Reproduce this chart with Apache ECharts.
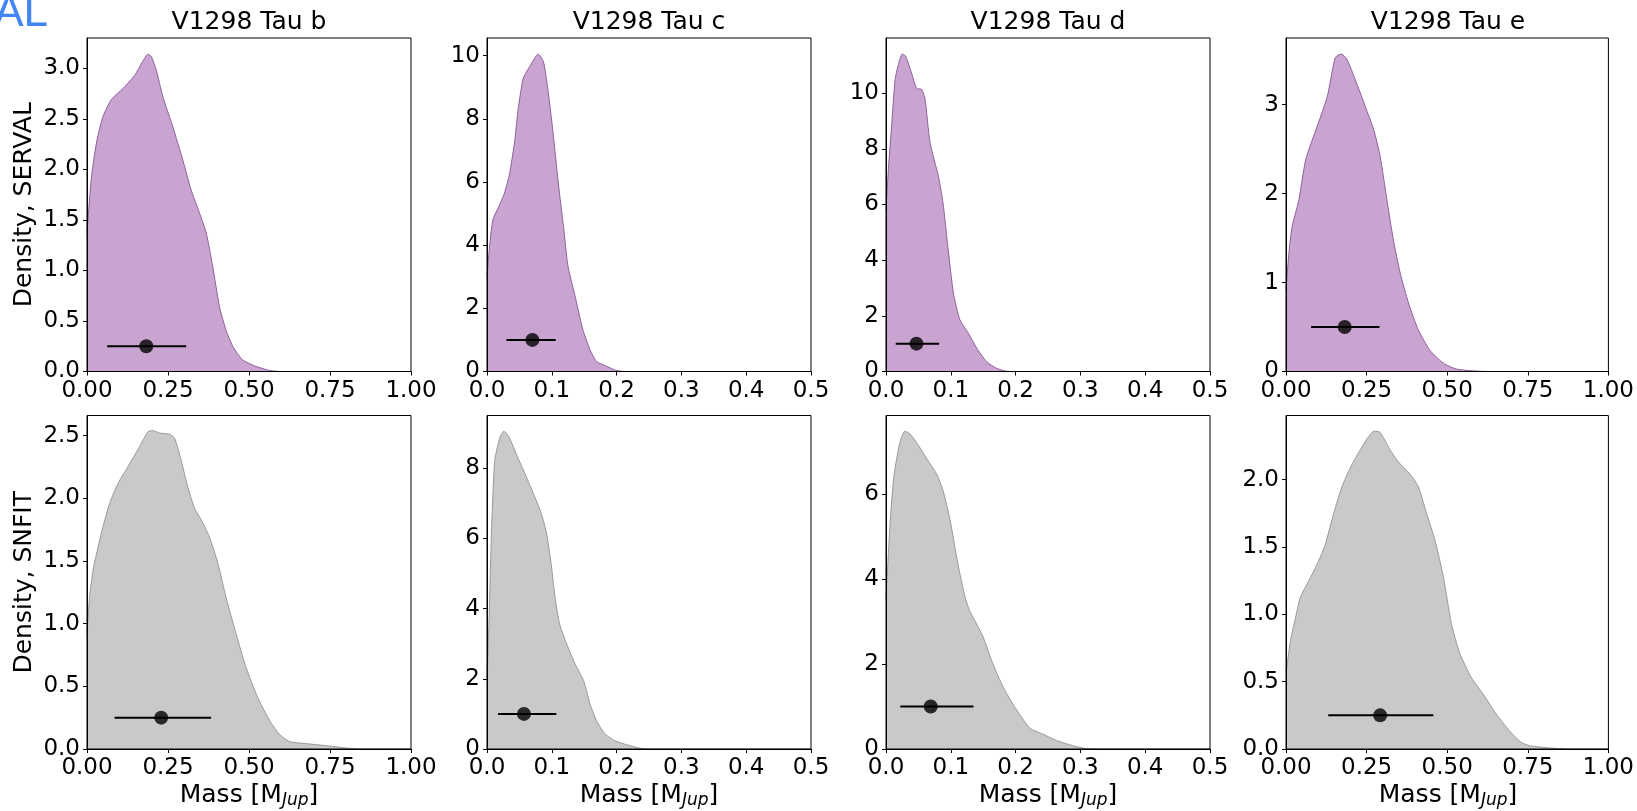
<!DOCTYPE html>
<html><head><meta charset="utf-8">
<script src="https://cdn.jsdelivr.net/npm/echarts@6/dist/echarts.min.js"></script>
<style>html,body{margin:0;padding:0;background:#fff}#c{width:1637px;height:811px}</style>
</head><body><div id="c"></div>
<script>
// ---------------- DATA ----------------
const planets = ['V1298 Tau b', 'V1298 Tau c', 'V1298 Tau d', 'V1298 Tau e'];
const rowLabels = ['Density, SERVAL', 'Density, SNFIT'];
const massLabel = 'Mass [M{sub|Jup}]';
const cornerText = 'AL';

// x tick values
const xTicksWide = [0, 0.25, 0.5, 0.75, 1.0];
const xTicksNarrow = [0, 0.1, 0.2, 0.3, 0.4, 0.5];
// y tick values
const yTicksServal = [[0, 0.5, 1, 1.5, 2, 2.5, 3], [0, 2, 4, 6, 8, 10], [0, 2, 4, 6, 8, 10], [0, 1, 2, 3]];
const yTicksSnfit = [[0, 0.5, 1, 1.5, 2, 2.5], [0, 2, 4, 6, 8], [0, 2, 4, 6], [0, 0.5, 1, 1.5, 2]];

// density curves [mass, density] — SERVAL
const densServalB = [[0,1.37],[0.013,1.90],[0.029,2.26],[0.049,2.52],[0.075,2.69],[0.111,2.80],[0.147,2.93],[0.172,3.07],[0.188,3.14],[0.198,3.12],[0.214,2.98],[0.234,2.72],[0.265,2.42],[0.296,2.09],[0.321,1.80],[0.347,1.57],[0.368,1.37],[0.388,1.04],[0.409,0.64],[0.429,0.41],[0.45,0.25],[0.48,0.116],[0.522,0.05],[0.564,0.01],[0.6,0],[1.0,0]];
const densServalC = [[0,3.01],[0.004,3.96],[0.009,4.80],[0.017,5.17],[0.027,5.65],[0.035,6.28],[0.043,7.34],[0.048,8.29],[0.056,9.29],[0.066,9.66],[0.079,10.05],[0.087,9.82],[0.094,8.92],[0.102,7.55],[0.110,5.97],[0.118,4.59],[0.125,3.33],[0.136,2.38],[0.148,1.32],[0.159,0.69],[0.169,0.32],[0.185,0.16],[0.2,0.03],[0.215,0],[0.5,0]];
const densServalD = [[0,5.81],[0.004,7.37],[0.009,8.92],[0.014,10.48],[0.019,11.02],[0.025,11.40],[0.030,11.34],[0.037,10.90],[0.045,10.30],[0.048,10.15],[0.054,10.15],[0.060,9.82],[0.068,8.21],[0.081,7.0],[0.088,6.05],[0.096,4.37],[0.104,2.82],[0.114,1.86],[0.127,1.38],[0.140,0.84],[0.155,0.36],[0.170,0.12],[0.186,0.01],[0.2,0],[0.5,0]];
const densServalE = [[0,0.92],[0.009,1.33],[0.019,1.63],[0.040,1.93],[0.061,2.38],[0.097,2.76],[0.128,3.09],[0.153,3.53],[0.172,3.57],[0.189,3.51],[0.215,3.28],[0.246,2.98],[0.272,2.72],[0.292,2.42],[0.313,1.93],[0.333,1.48],[0.354,1.11],[0.380,0.77],[0.410,0.47],[0.446,0.24],[0.488,0.094],[0.529,0.027],[0.59,0.005],[0.63,0],[1.0,0]];
// density curves — SNFIT
const densSnfitB = [[0,0.92],[0.008,1.21],[0.019,1.43],[0.034,1.61],[0.049,1.77],[0.070,1.96],[0.096,2.12],[0.126,2.25],[0.162,2.41],[0.188,2.53],[0.203,2.54],[0.224,2.52],[0.255,2.51],[0.270,2.48],[0.290,2.31],[0.311,2.09],[0.332,1.92],[0.352,1.83],[0.378,1.69],[0.404,1.48],[0.429,1.21],[0.460,0.92],[0.491,0.65],[0.527,0.41],[0.563,0.23],[0.593,0.12],[0.624,0.06],[0.676,0.043],[0.748,0.024],[0.799,0.008],[0.84,0],[1.0,0]];
const densSnfitC = [[0,1.95],[0.003,3.56],[0.007,6.22],[0.012,8.22],[0.020,8.88],[0.026,9.05],[0.033,8.93],[0.045,8.41],[0.061,7.74],[0.074,7.17],[0.084,6.70],[0.092,6.13],[0.099,5.27],[0.105,4.32],[0.112,3.56],[0.123,2.99],[0.136,2.42],[0.149,1.95],[0.159,1.28],[0.169,0.81],[0.182,0.43],[0.197,0.24],[0.216,0.12],[0.234,0.03],[0.25,0],[0.5,0]];
const densSnfitD = [[0,3.57],[0.004,4.67],[0.007,5.45],[0.012,6.39],[0.021,7.18],[0.029,7.47],[0.037,7.41],[0.050,7.14],[0.063,6.82],[0.078,6.47],[0.088,6.08],[0.099,5.37],[0.111,4.35],[0.122,3.57],[0.129,3.25],[0.137,3.02],[0.150,2.63],[0.165,2.0],[0.181,1.45],[0.199,0.98],[0.222,0.49],[0.242,0.35],[0.263,0.2],[0.288,0.08],[0.309,0.008],[0.33,0],[0.5,0]];
const densSnfitE = [[0,0.56],[0.014,0.805],[0.030,0.98],[0.045,1.13],[0.071,1.25],[0.102,1.40],[0.122,1.52],[0.148,1.75],[0.174,1.95],[0.200,2.09],[0.230,2.22],[0.256,2.32],[0.274,2.36],[0.292,2.35],[0.323,2.22],[0.349,2.13],[0.385,2.04],[0.410,1.95],[0.436,1.75],[0.462,1.55],[0.488,1.28],[0.513,0.93],[0.539,0.71],[0.575,0.53],[0.611,0.41],[0.652,0.26],[0.693,0.136],[0.729,0.05],[0.755,0.025],[0.817,0.008],[0.88,0],[1.0,0]];

// point estimates with error bars
const servalMedian = [0.183, 0.070, 0.047, 0.182];
const servalLow    = [0.062, 0.030, 0.015, 0.078];
const servalHigh   = [0.306, 0.106, 0.082, 0.290];
const servalLevel  = [0.25, 1.0, 1.0, 0.5];
const snfitMedian  = [0.229, 0.057, 0.069, 0.292];
const snfitLow     = [0.085, 0.017, 0.022, 0.131];
const snfitHigh    = [0.383, 0.107, 0.135, 0.457];
const snfitLevel   = [0.25, 1.0, 1.0, 0.25];

// ---------------- LAYOUT / STYLE ----------------
const xMax = [1, 0.5, 0.5, 1];
const xInterval = [0.25, 0.1, 0.1, 0.25];
const xDec = [2, 1, 1, 2];
const yMaxServal = [3.30, 10.56, 11.98, 3.75];
const yMaxSnfit = [2.66, 9.50, 7.84, 2.476];
const yIntServal = [0.5, 2, 2, 1];
const yIntSnfit = [0.5, 2, 2, 0.5];
const yDecServal = [1, 0, 0, 0];
const yDecSnfit = [1, 0, 0, 1];

const FONT = 'DejaVu Sans';
const TICK_FS = 23;
const LABEL_FS = 25;
const gridLeft = [87, 487, 886, 1286];
const gridTop = [38, 415.5];
const gridW = 324, gridH = 333.5;

const rows = [
  { dens: [densServalB, densServalC, densServalD, densServalE], med: servalMedian, lo: servalLow, hi: servalHigh, lev: servalLevel,
    yMax: yMaxServal, yInt: yIntServal, yDec: yDecServal, yTicks: yTicksServal, fill: '#c9a4d1', edge: '#8e5f9c' },
  { dens: [densSnfitB, densSnfitC, densSnfitD, densSnfitE], med: snfitMedian, lo: snfitLow, hi: snfitHigh, lev: snfitLevel,
    yMax: yMaxSnfit, yInt: yIntSnfit, yDec: yDecSnfit, yTicks: yTicksSnfit, fill: '#c9c9c9', edge: '#999999' }
];

const grids = [], xAxes = [], yAxes = [], series = [], graphics = [];
const xTickSets = [xTicksWide, xTicksNarrow, xTicksNarrow, xTicksWide];

rows.forEach((row, r) => {
  for (let c = 0; c < 4; c++) {
    const idx = r * 4 + c;
    grids.push({ left: gridLeft[c], top: gridTop[r], width: gridW, height: gridH, show: true,
      borderColor: '#000', borderWidth: 1, backgroundColor: 'transparent', z: 10, containLabel: false });
    const xd = xDec[c];
    xAxes.push({ gridIndex: idx, type: 'value', min: 0, max: xMax[c], interval: xInterval[c], z: 10,
      axisLine: { show: true, onZero: false, lineStyle: { color: '#000', width: 1 } },
      axisTick: { show: true, inside: false, length: 4, customValues: xTickSets[c], lineStyle: { color: '#000' } },
      axisLabel: { show: true, margin: 8, color: '#000', fontSize: TICK_FS, fontFamily: FONT, customValues: xTickSets[c],
        showMinLabel: true, showMaxLabel: true, formatter: v => Number(v).toFixed(xd) },
      splitLine: { show: false } });
    const yd = row.yDec[c];
    yAxes.push({ gridIndex: idx, type: 'value', min: 0, max: row.yMax[c], interval: row.yInt[c], z: 10,
      axisLine: { show: true, onZero: false, lineStyle: { color: '#000', width: 1 } },
      axisTick: { show: true, inside: false, length: 4, customValues: row.yTicks[c], lineStyle: { color: '#000' } },
      axisLabel: { show: true, margin: 7, color: '#000', fontSize: TICK_FS, fontFamily: FONT, customValues: row.yTicks[c],
        formatter: v => Number(v).toFixed(yd) },
      splitLine: { show: false } });
    series.push({ type: 'line', xAxisIndex: idx, yAxisIndex: idx, data: row.dens[c], showSymbol: false,
      smooth: 0.2, lineStyle: { color: row.edge, width: 1 },
      areaStyle: { color: row.fill, opacity: 1 }, z: 2, silent: true, animation: false });
    series.push({ type: 'line', xAxisIndex: idx, yAxisIndex: idx,
      data: [[row.lo[c], row.lev[c]], [row.hi[c], row.lev[c]]], showSymbol: false,
      lineStyle: { color: '#000', width: 2 }, z: 3, silent: true, animation: false });
    series.push({ type: 'scatter', xAxisIndex: idx, yAxisIndex: idx, data: [[row.med[c], row.lev[c]]],
      symbol: 'circle', symbolSize: 14, itemStyle: { color: '#000' }, z: 4, silent: true, animation: false });
  }
  graphics.push({ type: 'text', x: 24, y: gridTop[r] + gridH / 2, rotation: Math.PI / 2,
    style: { text: rowLabels[r], fill: '#000', font: LABEL_FS + 'px "DejaVu Sans"', textAlign: 'center', textVerticalAlign: 'middle' } });
});

for (let c = 0; c < 4; c++) {
  const cx = gridLeft[c] + gridW / 2;
  graphics.push({ type: 'text', x: cx, y: 22,
    style: { text: planets[c], fill: '#000', font: LABEL_FS + 'px "DejaVu Sans"', textAlign: 'center', textVerticalAlign: 'middle' } });
  graphics.push({ type: 'text', x: cx, y: 795,
    style: { text: massLabel, fill: '#000', fontSize: LABEL_FS, fontFamily: FONT, textAlign: 'center', textVerticalAlign: 'middle',
      rich: { sub: { fontSize: 17, fontStyle: 'italic', fontFamily: FONT, padding: [12, 0, 0, 0], fill: '#000' } } } });
}
graphics.push({ type: 'text', x: 48, y: 14,
  style: { text: cornerText, fill: '#4285f4', font: '44px "Liberation Sans"', textAlign: 'right', textVerticalAlign: 'middle' } });

const chart = echarts.init(document.getElementById('c'), null, { renderer: 'canvas' });
chart.setOption({
  animation: false,
  backgroundColor: '#fff',
  grid: grids, xAxis: xAxes, yAxis: yAxes, series: series, graphic: graphics
});
</script></body></html>
